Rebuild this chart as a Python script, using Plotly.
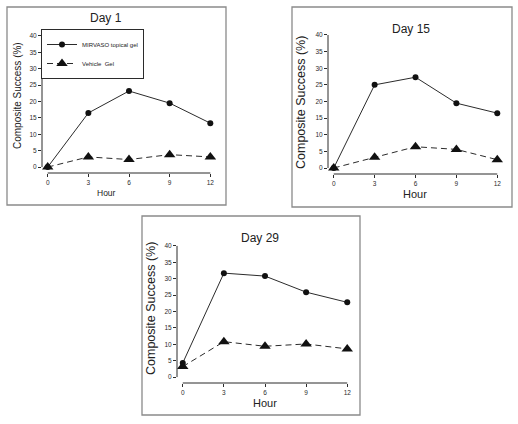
import plotly.graph_objects as go

W, H = 518, 424

hours = [0, 3, 6, 9, 12]
y_ticks = [0, 5, 10, 15, 20, 25, 30, 35, 40]

mirvaso_day1 = [0, 16.5, 23.2, 19.5, 13.4]
vehicle_day1 = [0, 3.1, 2.3, 3.8, 3.1]
mirvaso_day15 = [0, 25.0, 27.3, 19.5, 16.5]
vehicle_day15 = [0, 3.2, 6.4, 5.6, 2.5]
mirvaso_day29 = [4.3, 31.7, 30.8, 25.9, 22.8]
vehicle_day29 = [3.2, 10.8, 9.4, 10.1, 8.6]

panels = [
    ("Day 1", mirvaso_day1, vehicle_day1),
    ("Day 15", mirvaso_day15, vehicle_day15),
    ("Day 29", mirvaso_day29, vehicle_day29),
]

# pixel boxes for each panel: plot area (l, r, t, b), frame (l, r, t, b)
plot_px = [(42, 216, 30, 173), (328, 503, 29, 174), (177, 353, 240, 383)]
frame_px = [(7, 226, 7, 205), (292, 512, 7, 207), (142, 360, 216, 415)]
title_px = [(106, 18), (411, 29), (260, 238)]
ylab_px = [(18, 96, 10), (301, 103, 12.5), (151, 309, 12.5)]
xlab_px = [(106, 193, 8.5), (415, 194, 11), (265, 403, 11)]

def px_x(v):
    return v / W

def px_y(v):
    return 1 - v / H

ink = "#2b2b2b"
font = "Liberation Sans, Arial, sans-serif"

fig = go.Figure()
shapes = []
annotations = []

def label(text, x, y, size, angle=0):
    return dict(text=text, x=px_x(x), y=px_y(y), xref="paper", yref="paper",
                xanchor="center", yanchor="middle", textangle=angle, showarrow=False,
                font=dict(size=size, color="#222", family=font))

for i, (name, mir, veh) in enumerate(panels):
    sfx = "" if i == 0 else str(i + 1)
    fig.add_trace(go.Scatter(
        x=hours, y=mir, mode="lines+markers", name="MIRVASO topical gel",
        xaxis="x" + sfx, yaxis="y" + sfx,
        line=dict(color=ink, width=1),
        marker=dict(symbol="circle", size=6, color="#111"),
        showlegend=(i == 0),
    ))
    fig.add_trace(go.Scatter(
        x=hours, y=veh, mode="lines+markers", name="Vehicle  Gel",
        xaxis="x" + sfx, yaxis="y" + sfx,
        line=dict(color=ink, width=1, dash="6px,4px"),
        marker=dict(symbol="triangle-up", size=10, color="#111"),
        showlegend=(i == 0),
    ))

    l, r, t, b = plot_px[i]
    fig.update_layout(**{
        "xaxis" + sfx: dict(
            domain=[px_x(l), px_x(r)], range=[-0.42, 12.42],
            anchor="y" + sfx, tickvals=hours, ticks="outside", ticklen=3,
            tickcolor=ink, showgrid=False, zeroline=False, showline=False,
            tickfont=dict(size=6.5, color=ink, family=font),
        ),
        "yaxis" + sfx: dict(
            domain=[px_y(b), px_y(t)], range=[-1.8, 41.8],
            anchor="x" + sfx, tickvals=y_ticks, ticks="outside", ticklen=3,
            tickcolor=ink, showgrid=False, zeroline=False, showline=False,
            tickfont=dict(size=6.5, color=ink, family=font),
        ),
    })

    # R-style axis lines spanning first to last tick
    shapes.append(dict(type="line", xref="x" + sfx + " domain", yref="y" + sfx,
                       x0=0, x1=0, y0=y_ticks[0], y1=y_ticks[-1],
                       line=dict(color=ink, width=1)))
    shapes.append(dict(type="line", xref="x" + sfx, yref="y" + sfx + " domain",
                       x0=hours[0], x1=hours[-1], y0=0, y1=0,
                       line=dict(color=ink, width=1)))

    fl, fr, ft, fb = frame_px[i]
    shapes.append(dict(type="rect", xref="paper", yref="paper",
                       x0=px_x(fl), x1=px_x(fr), y0=px_y(fb), y1=px_y(ft),
                       line=dict(color="#8a8a8a", width=1.3)))

    tx, ty = title_px[i]
    annotations.append(label(name, tx, ty, 12))
    yx, yy, ys = ylab_px[i]
    annotations.append(label("Composite Success (%)", yx, yy, ys, -90))
    hx, hy, hs = xlab_px[i]
    annotations.append(label("Hour", hx, hy, hs))

fig.update_layout(
    width=W, height=H,
    margin=dict(l=0, r=0, t=0, b=0),
    paper_bgcolor="white", plot_bgcolor="white",
    shapes=shapes, annotations=annotations,
    legend=dict(x=px_x(41), y=px_y(29), xanchor="left", yanchor="top",
                bordercolor=ink, borderwidth=1, bgcolor="white",
                font=dict(size=6, color="#222", family=font),
                tracegroupgap=0, itemwidth=30),
)

# page body margin would push the figure off by 8px
fig.write_html("out.html", config={"displayModeBar": False},
               post_script="document.body.style.margin='0';")
